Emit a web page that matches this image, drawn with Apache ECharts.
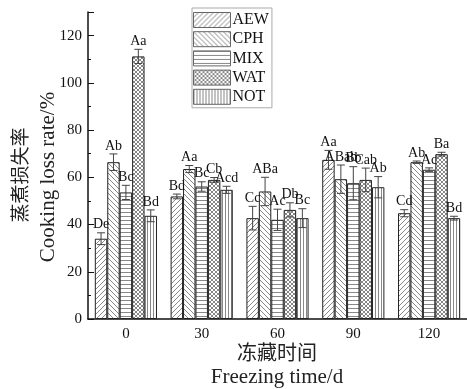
<!DOCTYPE html>
<html>
<head>
<meta charset="utf-8">
<script src="https://cdn.jsdelivr.net/npm/echarts@6/dist/echarts.min.js"></script>
<style>
  html, body { margin: 0; padding: 0; background: #fff; }
  #main { width: 467px; height: 389px; }
</style>
</head>
<body>
<div id="main"></div>
<script>
// freezing time (d)
var categories = ['0', '30', '60', '90', '120'];
var seriesNames = ['AEW', 'CPH', 'MIX', 'WAT', 'NOT'];

// cooking loss rate (%), error and significance letters
var aew = [34.0, 51.9, 42.7, 67.4, 44.8];
var aewErr = [2.5, 1.0, 5.0, 4.0, 1.5];
var aewLbl = ['De', 'Bd', 'Cc', 'Aa', 'Cd'];

var cph = [66.4, 63.5, 54.0, 59.2, 66.4];
var cphErr = [3.5, 1.5, 6.0, 6.0, 0.5];
var cphLbl = ['Ab', 'Aa', 'ABa', 'ABab', 'Ab'];

var mix = [53.6, 56.1, 42.0, 57.5, 63.2];
var mixErr = [3.0, 2.0, 4.5, 7.0, 0.8];
var mixLbl = ['Bc', 'Bc', 'Ac', 'Bb', 'Ac'];

var wat = [111.2, 58.9, 46.2, 58.9, 69.8];
var watErr = [3.0, 1.0, 3.0, 5.0, 0.8];
var watLbl = ['Aa', 'Cb', 'Db', 'Cab', 'Ba'];

var nott = [43.7, 54.7, 42.7, 55.8, 42.7];
var notErr = [2.5, 1.5, 4.0, 4.5, 0.8];
var notLbl = ['Bd', 'Acd', 'Bc', 'Ab', 'Bd'];

var values = [aew, cph, mix, wat, nott];
var errs = [aewErr, cphErr, mixErr, watErr, notErr];
var lbls = [aewLbl, cphLbl, mixLbl, watLbl, notLbl];

var SERIF = '"Liberation Serif", "Times New Roman", serif';
var CJK = '"Noto Sans CJK SC", sans-serif';
var CAT_GAP = 0.18;

// hatch fills
function hatch(kind) {
  var s = kind == 'v' ? 3 : (kind == 'h' ? 4 : (kind == 'x' ? 4 : 5));
  var c = document.createElement('canvas');
  c.width = s; c.height = s;
  var g = c.getContext('2d');
  g.fillStyle = '#fff';
  g.fillRect(0, 0, s, s);
  g.strokeStyle = '#555';
  g.lineWidth = 0.7;
  g.beginPath();
  if (kind == '/' || kind == 'x') {
    for (var k = 0; k <= 2; k++) { g.moveTo(-1, k * s + 1); g.lineTo(k * s + 1, -1); }
  }
  if (kind == '\\' || kind == 'x') {
    for (var k = -1; k <= 1; k++) { g.moveTo(k * s - 1, -1); g.lineTo(k * s + s + 1, s + 1); }
  }
  if (kind == 'h') { g.moveTo(0, 0.5); g.lineTo(s, 0.5); }
  if (kind == 'v') { g.moveTo(0.5, 0); g.lineTo(0.5, s); }
  g.stroke();
  return { image: c, repeat: 'repeat' };
}
var fills = [hatch('/'), hatch('\\'), hatch('h'), hatch('x'), hatch('v')];

var series = [];
seriesNames.forEach(function (name, i) {
  series.push({
    name: name,
    type: 'bar',
    barGap: '0%',
    barCategoryGap: (CAT_GAP * 100) + '%',
    data: values[i],
    itemStyle: { color: fills[i], borderColor: '#222', borderWidth: 1 },
    emphasis: { disabled: true }
  });
});

// error bars + letters
var errData = [];
values.forEach(function (arr, i) {
  arr.forEach(function (v, j) {
    errData.push([j, v, errs[i][j], lbls[i][j], i]);
  });
});

series.push({
  type: 'custom',
  name: 'err',
  data: errData,
  encode: { x: 0, y: 1 },
  z: 5,
  renderItem: function (params, api) {
    var band = api.size([1, 0])[0];
    var bw = band * (1 - CAT_GAP) / 5;
    var k = api.value(4);
    var c = api.coord([api.value(0), api.value(1)]);
    var x = c[0] + (k - 2) * bw;
    var e = api.value(2);
    var hi = api.coord([api.value(0), api.value(1) + e])[1];
    var lo = api.coord([api.value(0), api.value(1) - e])[1];
    var cap = 4;
    var st = { stroke: '#444', lineWidth: 1 };
    return {
      type: 'group',
      children: [
        { type: 'line', shape: { x1: x, y1: hi, x2: x, y2: lo }, style: st },
        { type: 'line', shape: { x1: x - cap, y1: hi, x2: x + cap, y2: hi }, style: st },
        { type: 'line', shape: { x1: x - cap, y1: lo, x2: x + cap, y2: lo }, style: st },
        { type: 'text', style: { text: api.value(3), x: x, y: hi - 1, align: 'center', verticalAlign: 'bottom',
            font: '14px ' + SERIF, fill: '#111' } }
      ]
    };
  }
});

var chart = echarts.init(document.getElementById('main'));
chart.setOption({
  backgroundColor: '#fff',
  animation: false,
  grid: { left: 88, right: 0, top: 12, bottom: 70 },
  legend: {
    data: seriesNames,
    orient: 'vertical',
    left: 192,
    top: 8,
    padding: [4, 3, 3, 1],
    itemWidth: 37,
    itemHeight: 15,
    itemGap: 3.2,
    borderColor: '#aaa',
    borderWidth: 1,
    icon: 'rect',
    selectedMode: false,
    itemStyle: { borderColor: '#666', borderWidth: 1 },
    textStyle: { fontFamily: SERIF, fontSize: 16, lineHeight: 15, color: '#111', padding: [0, 0, 0, -3] }
  },
  xAxis: {
    type: 'category',
    data: categories,
    axisLine: { lineStyle: { color: '#111', width: 1.5 } },
    axisTick: { inside: true, length: 5, lineStyle: { color: '#111' } },
    axisLabel: { color: '#111', fontFamily: SERIF, fontSize: 15, margin: 8 }
  },
  yAxis: {
    type: 'value',
    min: 0,
    max: 130,
    interval: 20,
    splitLine: { show: false },
    axisLine: { show: true, lineStyle: { color: '#111', width: 1.5 } },
    axisTick: { show: true, inside: true, length: 6, lineStyle: { color: '#111' } },
    minorTick: { show: true, splitNumber: 2, length: 3, lineStyle: { color: '#111' } },
    axisLabel: {
      color: '#111', fontFamily: SERIF, fontSize: 15, margin: 6,
      formatter: function (v) { return v > 120 ? '' : v; }
    }
  },
  graphic: [
    { type: 'text', x: 20, y: 175, rotation: Math.PI / 2,
      style: { text: '蒸煮损失率', font: '19px ' + CJK, fill: '#222', align: 'center', verticalAlign: 'middle' } },
    { type: 'text', x: 48, y: 177, rotation: Math.PI / 2,
      style: { text: 'Cooking loss rate/%', font: '21px ' + SERIF, fill: '#222', align: 'center', verticalAlign: 'middle' } },
    { type: 'text', x: 277, y: 352,
      style: { text: '冻藏时间', font: '20px ' + CJK, fill: '#222', align: 'center', verticalAlign: 'middle' } },
    { type: 'text', x: 277, y: 377,
      style: { text: 'Freezing time/d', font: '21px ' + SERIF, fill: '#222', align: 'center', verticalAlign: 'middle' } }
  ],
  series: series
});
</script>
</body>
</html>
